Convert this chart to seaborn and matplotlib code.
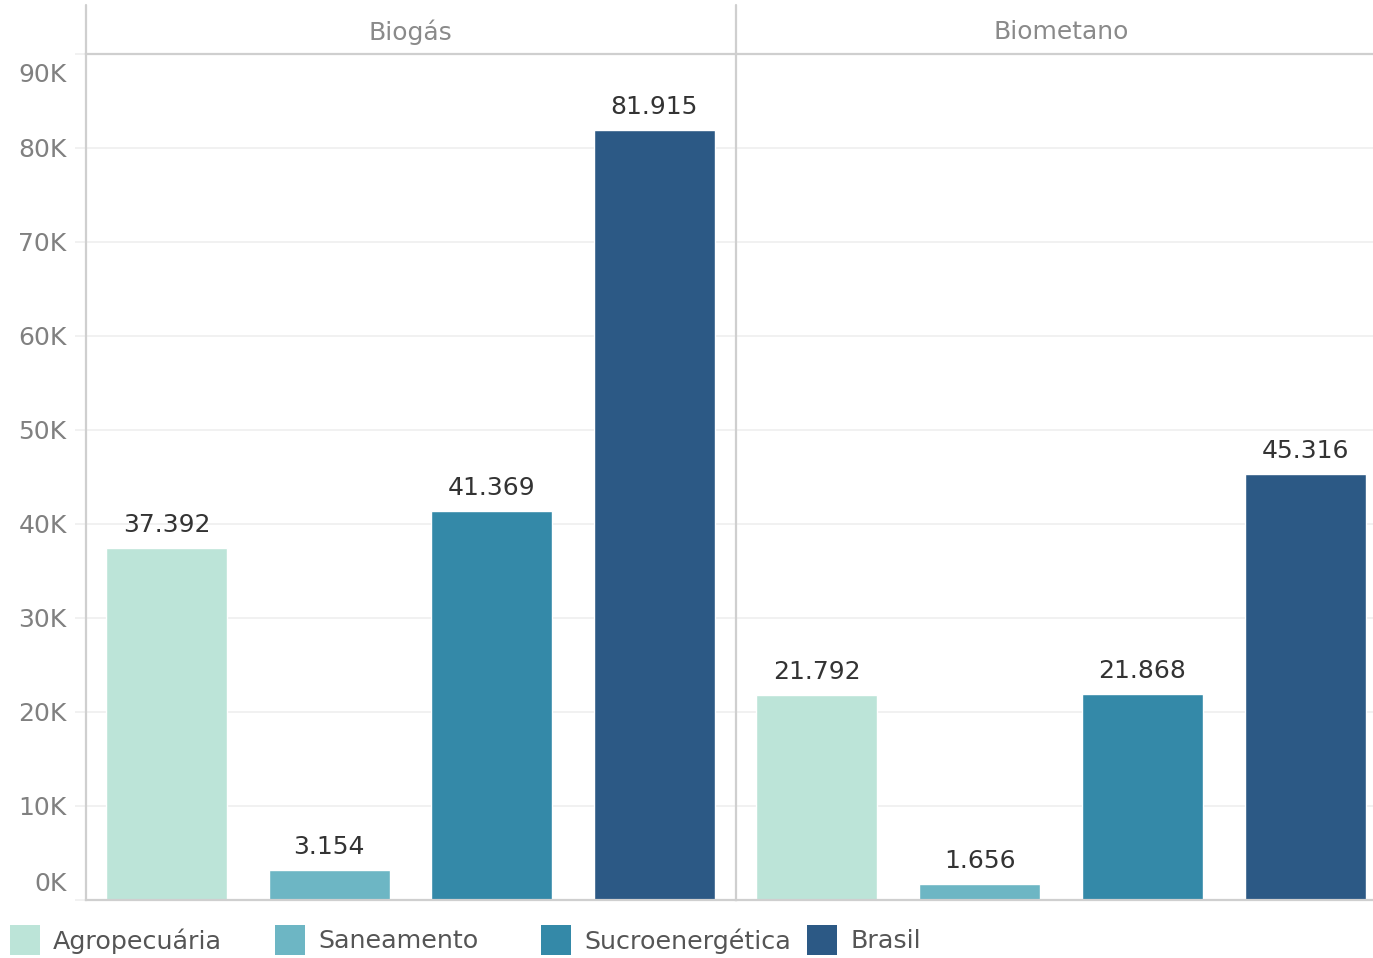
import matplotlib
matplotlib.use("Agg")
import matplotlib.pyplot as plt
import matplotlib.transforms as mtransforms
from matplotlib.lines import Line2D
from matplotlib.patches import Rectangle
import seaborn as sns
import pandas as pd

# ---------------- data ----------------
panels = ["Biogás", "Biometano"]
categories = ["Agropecuária", "Saneamento", "Sucroenergética", "Brasil"]
biogas_values = [37392, 3154, 41369, 81915]
biometano_values = [21792, 1656, 21868, 45316]
colors = ["#BCE4D8", "#6DB6C4", "#3489A8", "#2C5985"]
ytick_values = [0, 10000, 20000, 30000, 40000, 50000, 60000, 70000, 80000, 90000]
ytick_labels = ["0K", "10K", "20K", "30K", "40K", "50K", "60K", "70K", "80K", "90K"]

df = pd.DataFrame({
    "panel": [panels[0]] * len(categories) + [panels[1]] * len(categories),
    "category": categories * 2,
    "value": biogas_values + biometano_values,
})

sns.set_theme(style="white")
plt.rcParams["font.family"] = ["DejaVu Sans"]

W, H = 1373, 958
fig = plt.figure(figsize=(W / 100, H / 100), dpi=100)
fig.patch.set_facecolor("white")


def px_rect(x0, y0, x1, y1):
    return [x0 / W, 1 - y1 / H, (x1 - x0) / W, (y1 - y0) / H]


AX_TOP, AX_BOT = 53.7, 899.5
ax_positions = [px_rect(85.5, AX_TOP, 735.5, AX_BOT), px_rect(735.5, AX_TOP, 1386.5, AX_BOT)]
palette = dict(zip(categories, colors))
line_col = "#cfcfcf"
grid_col = "#efefef"


def fmt(v):
    return f"{v:,}".replace(",", ".")


for i, (panel, pos) in enumerate(zip(panels, ax_positions)):
    ax = fig.add_axes(pos)
    sub = df[df["panel"] == panel]
    sns.barplot(data=sub, x="category", y="value", hue="category", order=categories,
                hue_order=categories, palette=palette, width=0.745, dodge=False,
                saturation=1, legend=False, ax=ax)
    ax.set_xlim(-0.5, 3.5)
    ax.set_ylim(0, 90000)
    ax.set_xlabel("")
    ax.set_ylabel("")
    ax.set_xticks([])
    ax.set_yticks(ytick_values)
    ax.set_axisbelow(True)
    ax.yaxis.grid(True, color=grid_col, linewidth=1.2)
    for s in ["top", "left", "bottom"]:
        ax.spines[s].set_visible(True)
        ax.spines[s].set_color(line_col)
        ax.spines[s].set_linewidth(1.6)
    ax.spines["right"].set_visible(False)

    if i == 0:
        ax.set_yticklabels(ytick_labels)
        ax.tick_params(axis="y", length=8, width=1.2, color=grid_col, pad=5.5,
                       labelsize=18, labelcolor="#808080", left=True)
        lbls = ax.get_yticklabels()
        off_up = mtransforms.ScaledTranslation(0, 18 / 100, fig.dpi_scale_trans)
        off_dn = mtransforms.ScaledTranslation(0, -19 / 100, fig.dpi_scale_trans)
        lbls[0].set_transform(lbls[0].get_transform() + off_up)
        lbls[-1].set_transform(lbls[-1].get_transform() + off_dn)
    else:
        ax.set_yticklabels([])
        ax.tick_params(axis="y", length=0)

    # vertical line extending into header
    hdr = (AX_TOP - 5) / (AX_BOT - AX_TOP)
    ax.add_line(Line2D([0, 0], [1, 1 + hdr], transform=ax.transAxes, clip_on=False,
                       color=line_col, linewidth=1.6))
    # header text
    ax.annotate(panel, xy=(0.5, 1), xycoords="axes fraction", xytext=(0, 21.7 * 0.72),
                textcoords="offset points", ha="center", va="center",
                fontsize=18, color="#8a8a8a")

    # value labels
    for _, row in sub.iterrows():
        x = categories.index(row["category"])
        ax.annotate(fmt(row["value"]), xy=(x, row["value"]), xytext=(0, 16.5),
                    textcoords="offset points", ha="center", va="center",
                    fontsize=18, color="#333333")

# legend
legend_x = [10, 275, 541, 807]
for x0, cat, col in zip(legend_x, categories, colors):
    fig.add_artist(Rectangle((x0 / W, 1 - 955 / H), 30 / W, 30 / H,
                             transform=fig.transFigure, facecolor=col, edgecolor="none"))
    fig.text((x0 + 43) / W, 1 - 941 / H, cat, ha="left", va="center",
             fontsize=18.3, color="#555555")

fig.savefig("out.png", dpi=100, facecolor="white")
